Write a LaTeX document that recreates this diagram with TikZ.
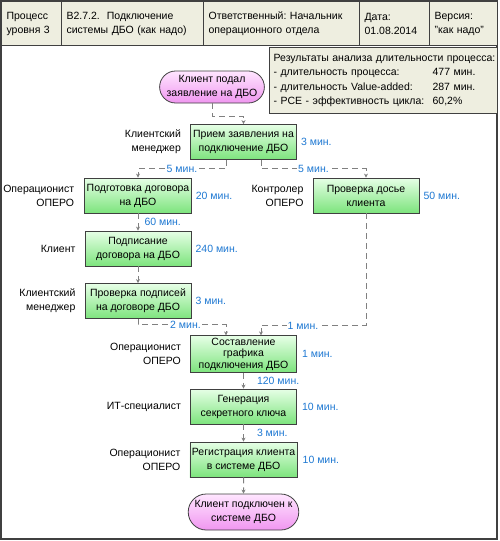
\documentclass[tikz,border=0pt]{standalone}
\usepackage{fontspec}
\setmainfont{Liberation Sans}
\usetikzlibrary{shapes,arrows.meta,positioning}

\definecolor{hdrfill}{RGB}{238,238,224}
\definecolor{frameclr}{RGB}{64,64,64}
\definecolor{timeclr}{RGB}{30,120,210}
\definecolor{boxtop}{RGB}{230,255,230}
\definecolor{boxbot}{RGB}{125,228,125}
\definecolor{pilltop}{RGB}{255,230,255}
\definecolor{pillbot}{RGB}{240,150,240}
\definecolor{flowclr}{RGB}{128,128,128}

\begin{document}
\begin{tikzpicture}[x=1pt,y=-1pt,
  every node/.style={font=\fontsize{10.5}{14}\selectfont\frenchspacing},
  hdr/.style={draw=frameclr,line width=1.2pt,fill=hdrfill,anchor=north west,minimum height=44pt,align=left,inner xsep=5pt,inner ysep=4pt},
  stepbox/.style={draw=frameclr,line width=0.8pt,top color=boxtop,bottom color=boxbot,minimum width=106pt,minimum height=35pt,align=center,inner sep=2pt},
  term/.style={draw=frameclr,line width=0.8pt,top color=pilltop,bottom color=pillbot,rounded rectangle,align=center,inner sep=2pt},
  role/.style={align=right,inner sep=0pt},
  tm/.style={text=timeclr,inner sep=0pt},
  flow/.style={draw=flowclr,line width=1pt,dash pattern=on 6pt off 4pt,-{Stealth[length=4pt,width=4pt]}}]
\useasboundingbox (0,0) rectangle (499,541);
\draw[frameclr,line width=1.2pt] (1,1) rectangle (497,539);

\node[hdr,minimum width=60pt,text width=50pt] (proc) at (1,1) {Процесс\\уровня 3};
\node[hdr,minimum width=142pt,text width=132pt] (name) at (61,1) {B2.7.2.~ Подключение\\системы ДБО (как надо)};
\node[hdr,minimum width=156pt,text width=146pt] (resp) at (203,1) {Ответственный: Начальник\\операционного отдела};
\node[hdr,minimum width=70pt,text width=60pt] (date) at (359,1) {Дата:\\01.08.2014};
\node[hdr,minimum width=68pt,text width=58pt] (ver) at (429,1) {Версия:\\"как надо"};

\node[hdr,minimum width=228pt,text width=224pt,minimum height=66pt,inner xsep=2pt,font=\fontsize{10.5}{14.5}\selectfont\frenchspacing] (res) at (269,47)
  {\hspace*{2pt}Результаты анализа длительности процесса:\\
   \hspace*{2pt}\makebox[159pt][l]{- длительность процесса:}477 мин.\\
   \hspace*{2pt}\makebox[159pt][l]{- длительность Value-added:}287 мин.\\
   \hspace*{2pt}\makebox[159pt][l]{- PCE - эффективность цикла:}60,2\%};

\node[term,minimum width=102pt,minimum height=32pt] (start) at (212,87) {Клиент подал\\заявление на ДБО};
\node[stepbox] (priem) at (243.5,142) {Прием заявления на\\подключение ДБО};
\node[stepbox] (podg) at (138,195.5) {Подготовка договора\\на ДБО};
\node[stepbox] (dosie) at (366,195.5) {Проверка досье\\клиента};
\node[stepbox] (podp) at (138,248.5) {Подписание\\договора на ДБО};
\node[stepbox] (provp) at (138,301) {Проверка подписей\\на договоре ДБО};
\node[stepbox,minimum height=36pt,font=\fontsize{10.5}{11.5}\selectfont] (sost) at (243.5,354) {Составление\\графика\\подключения ДБО};
\node[stepbox] (gen) at (243.5,406.5) {Генерация\\секретного ключа};
\node[stepbox] (reg) at (243.5,459.5) {Регистрация клиента\\в системе ДБО};
\node[term,minimum width=106pt,minimum height=36pt] (fin) at (243.5,512) {Клиент подключен к\\системе ДБО};

\node[role,left=9pt of priem] (r1) {Клиентский\\менеджер};
\node[role,left=10pt of podg] (r2) {Операционист\\ОПЕРО};
\node[role,left=9pt of dosie] (r3) {Контролер\\ОПЕРО};
\node[role,left=9pt of podp] (r4) {Клиент};
\node[role,left=9pt of provp] (r5) {Клиентский\\менеджер};
\node[role,left=9pt of sost] (r6) {Операционист\\ОПЕРО};
\node[role,left=9pt of gen] (r7) {ИТ-специалист};
\node[role,left=9pt of reg] (r8) {Операционист\\ОПЕРО};

\node[tm,right=4pt of priem] (t1) {3 мин.};
\node[tm,right=4pt of podg] (t2) {20 мин.};
\node[tm,right=4pt of dosie] (t3) {50 мин.};
\node[tm,right=4pt of podp] (t4) {240 мин.};
\node[tm,right=4pt of provp] (t5) {3 мин.};
\node[tm,right=5pt of sost] (t6) {1 мин.};
\node[tm,right=5pt of gen] (t7) {10 мин.};
\node[tm,right=5pt of reg] (t8) {10 мин.};

\draw[flow] (start.south) -- ++(0,13) -| (priem.north);
\draw[flow] ([xshift=-17.5pt]priem.south) -- ++(0,9) -| node[tm,pos=0.25,fill=white,inner sep=1pt] (w1) {5 мин.} (podg.north);
\draw[flow] ([xshift=17.5pt]priem.south) -- ++(0,9) -| node[tm,pos=0.25,fill=white,inner sep=1pt] (w2) {5 мин.} (dosie.north);
\draw[flow] (podg) -- node[tm,right=6pt] (w3) {60 мин.} (podp);
\draw[flow] (podp) -- (provp);
\draw[flow] (provp.south) -- ++(0,6) -| node[tm,pos=0.27,fill=white,inner sep=1pt] (w4) {2 мин.} ([xshift=-17.5pt]sost.north);
\draw[flow] (dosie.south) -- ++(0,112) -| node[tm,pos=0.3,fill=white,inner sep=1pt] (w5) {1 мин.} ([xshift=17.5pt]sost.north);
\draw[flow] (sost) -- node[tm,right=13pt] (w6) {120 мин.} (gen);
\draw[flow] (gen) -- node[tm,right=13pt] (w7) {3 мин.} (reg);
\draw[flow] (reg) -- (fin);
\end{tikzpicture}
\end{document}
